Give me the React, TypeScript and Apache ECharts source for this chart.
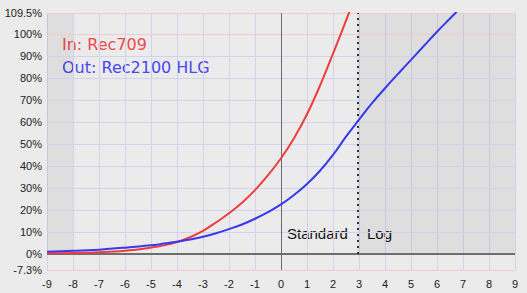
import React, { useEffect, useRef } from "react";
import * as echarts from "echarts";

const xTicks = [-9, -8, -7, -6, -5, -4, -3, -2, -1, 0, 1, 2, 3, 4, 5, 6, 7, 8, 9];
const yLabelValues = [-7.3, 0, 10, 20, 30, 40, 50, 60, 70, 80, 90, 100, 109.5];
const yGridValues = [10, 20, 30, 40, 50, 60, 70, 80, 90];
const yRedLines = [-7.3, 100, 109.5];

const redX = [-9, -8, -7, -6, -5, -4.5, -4, -3.5, -3, -2.5, -2, -1.5, -1, -0.5, 0, 0.5, 1, 1.5, 2, 2.5, 3];
const redY = [0.3, 0.45, 0.8, 1.5, 2.9, 3.9, 5.4, 7.6, 10.5, 14.3, 18.5, 23.3, 29, 35.8, 43.5, 52.6, 63.5, 76.5, 91, 106, 122];

const blueX = [-9, -8, -7, -6, -5, -4.5, -4, -3.5, -3, -2.5, -2, -1.5, -1, -0.5, 0, 0.5, 1, 1.5, 2, 2.5, 3, 3.5, 4, 4.5, 5, 5.5, 6, 6.5, 7];
const blueY = [1.05, 1.4, 1.95, 2.85, 3.95, 4.7, 5.5, 6.6, 7.8, 9.4, 11.3, 13.4, 16, 19, 22.5, 26.8, 31.8, 37.8, 45, 53.3, 61, 68.5, 75.3, 81.8, 88.2, 94.6, 101, 107, 113];

const logStart = 2.94;
const leftShadeEnd = -8;

export default function App() {
  const ref = useRef<HTMLDivElement>(null);
  useEffect(() => {
    if (!ref.current) return;
    const chart = echarts.init(ref.current, null, { renderer: "svg" });
    const zip = (xs: number[], ys: number[]) => xs.map((x, i) => [x, ys[i]]);
    chart.setOption({
      animation: false,
      backgroundColor: "#ebebeb",
      grid: { left: 47, right: 12, top: 13, bottom: 23 },
      xAxis: {
        type: "value",
        min: -9,
        max: 9,
        interval: 1,
        axisLine: { show: false },
        axisTick: { show: false },
        splitLine: { show: true, lineStyle: { color: "#d2d2ec", width: 1 } },
        axisLabel: {
          margin: 8,
          color: "#222",
          fontSize: 11,
          fontFamily: "Liberation Sans",
          formatter: (v: number) => (xTicks.includes(v) ? String(v) : ""),
        },
      },
      yAxis: {
        type: "value",
        min: -7.3,
        max: 109.5,
        axisLine: { show: false },
        axisTick: { show: false },
        splitLine: { show: false },
        axisLabel: {
          customValues: yLabelValues,
          margin: 5,
          color: "#222",
          fontSize: 11,
          fontFamily: "Liberation Sans",
          formatter: (v: number) => v + "%",
        },
      },
      series: [
        {
          type: "line",
          data: [],
          silent: true,
          markArea: {
            silent: true,
            itemStyle: { color: "rgba(0,0,0,0.055)" },
            data: [
              [{ xAxis: -9, yAxis: 0 }, { xAxis: leftShadeEnd, yAxis: 109.5 }],
              [{ xAxis: logStart, yAxis: 0 }, { xAxis: 9, yAxis: 109.5 }],
            ],
          },
          markLine: {
            silent: true,
            symbol: "none",
            label: { show: false },
            data: [
              ...yGridValues.map((v) => ({ yAxis: v, lineStyle: { color: "#d2d2ec", width: 1, type: "solid" } })),
              ...yRedLines.map((v) => ({ yAxis: v, lineStyle: { color: "#f0cccc", width: 1, type: "solid" } })),
              { xAxis: 0, lineStyle: { color: "#6a6a78", width: 1, type: "solid" } },
              { yAxis: 0, lineStyle: { color: "#6e6e6e", width: 2, type: "solid" } },
              [
                { coord: [logStart, 0], lineStyle: { color: "#333", width: 2, type: [2, 4] } },
                { coord: [logStart, 109.5] },
              ],
            ],
          },
        },
        {
          name: "In: Rec709",
          type: "line",
          data: zip(redX, redY),
          showSymbol: false,
          smooth: 0.4,
          clip: true,
          lineStyle: { color: "#f03c3c", width: 2 },
          z: 5,
        },
        {
          name: "Out: Rec2100 HLG",
          type: "line",
          data: zip(blueX, blueY),
          showSymbol: false,
          smooth: 0.4,
          clip: true,
          lineStyle: { color: "#3838ee", width: 2 },
          z: 5,
        },
      ],
      graphic: [
        { type: "text", left: 62, top: 36, style: { text: "In: Rec709", fill: "#f04848", font: "16px 'DejaVu Sans'" } },
        { type: "text", left: 62, top: 59, style: { text: "Out: Rec2100 HLG", fill: "#4848f0", font: "16px 'DejaVu Sans'" } },
        { type: "text", left: 287, top: 226, style: { text: "Standard", fill: "#111", font: "15px 'Liberation Sans'" } },
        { type: "text", left: 367, top: 226, style: { text: "Log", fill: "#111", font: "15px 'Liberation Sans'" } },
      ],
    });
    return () => chart.dispose();
  }, []);
  return <div ref={ref} style={{ position: "fixed", left: 0, top: 0, width: 527, height: 293 }} />;
}
